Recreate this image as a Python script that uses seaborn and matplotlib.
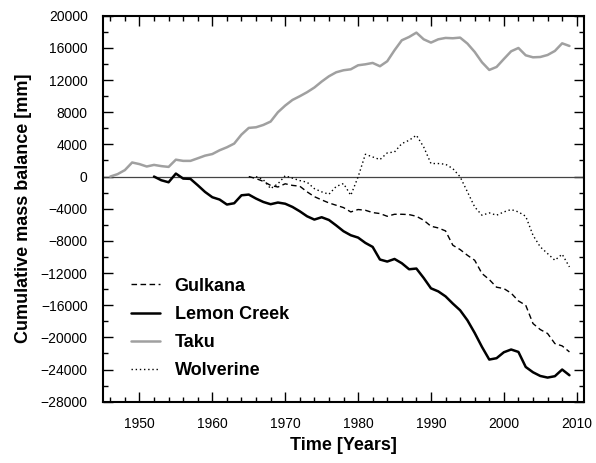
import numpy as np
import pandas as pd
import seaborn as sns
import matplotlib
matplotlib.use("Agg")
import matplotlib.pyplot as plt
from matplotlib.ticker import MultipleLocator, FixedLocator

# ---------------- data ----------------
taku_years = list(range(1946, 2010))
taku_values = [0, 300, 800, 1750, 1550, 1250, 1450, 1300, 1200, 2100,
               1950, 1950, 2270, 2600, 2800, 3270, 3640, 4100, 5220, 6050,
               6130, 6420, 6840, 8000, 8830, 9530, 9990, 10490, 11070, 11810,
               12470, 12970, 13220, 13340, 13840, 13960, 14130, 13720, 14340, 15710,
               16950, 17360, 17900, 17070, 16660, 17070, 17240, 17200, 17280, 16540,
               15500, 14210, 13260, 13630, 14620, 15580, 15990, 15080, 14830, 14870,
               15120, 15620, 16570, 16240]

lemon_years = list(range(1952, 2010))
lemon_values = [0, -460, -710, 370, -250, -290, -1080, -1910, -2570, -2860,
                -3480, -3320, -2330, -2240, -2740, -3160, -3440, -3230, -3380, -3780,
                -4320, -4940, -5350, -5060, -5400, -6080, -6800, -7300, -7590, -8250,
                -8750, -10320, -10570, -10250, -10780, -11530, -11440, -12610, -13900, -14280,
                -14900, -15800, -16630, -17870, -19450, -21190, -22760, -22590, -21850, -21510,
                -21810, -23680, -24340, -24800, -25000, -24830, -24000, -24710]

gulkana_years = list(range(1965, 2010))
gulkana_values = [0, -250, -600, -1100, -1300, -900, -1100, -1200, -1900, -2500,
                  -2900, -3280, -3570, -3860, -4400, -4100, -4190, -4480, -4600, -4940,
                  -4690, -4690, -4730, -4940, -5430, -6180, -6390, -6760, -8540, -9080,
                  -9790, -10410, -12060, -12810, -13760, -13930, -14500, -15470, -16000, -18280,
                  -19030, -19520, -20770, -21060, -21810]

wolverine_years = list(range(1966, 2010))
wolverine_values = [0, -400, -1500, -900, 100, -200, -500, -700, -1500, -1900,
                    -2200, -1230, -870, -2330, -50, 2770, 2440, 2110, 2940, 3060,
                    4100, 4510, 5140, 3680, 1620, 1620, 1530, 990, -30, -1900,
                    -3780, -4810, -4520, -4810, -4400, -4100, -4400, -4940, -7300, -8750,
                    -9580, -10410, -9660, -11240]

x_ticks = [1950, 1960, 1970, 1980, 1990, 2000, 2010]
y_ticks = list(range(-28000, 20001, 4000))

series = [
    ("Gulkana", gulkana_years, gulkana_values),
    ("Lemon Creek", lemon_years, lemon_values),
    ("Taku", taku_years, taku_values),
    ("Wolverine", wolverine_years, wolverine_values),
]

# ---------------- plot ----------------
sns.set_theme(style="ticks")
plt.rcParams['font.family'] = ['Liberation Sans', 'DejaVu Sans']
plt.rcParams['text.color'] = 'black'
plt.rcParams['axes.labelcolor'] = 'black'
plt.rcParams['xtick.color'] = 'black'
plt.rcParams['ytick.color'] = 'black'

fig = plt.figure(figsize=(5.96, 4.63), dpi=100)
ax = fig.add_axes([0.1728, 0.1324, 0.8071, 0.8336])

styles = {
    "Gulkana": dict(color="black", lw=1.0, dashes=(4, 2.5)),
    "Lemon Creek": dict(color="black", lw=1.8),
    "Taku": dict(color="#a0a0a0", lw=1.8),
    "Wolverine": dict(color="black", lw=1.0, dashes=(1, 2)),
}

ax.axhline(0, color="#444444", lw=0.9, zorder=1)

for name, yrs, vals in series:
    df = pd.DataFrame({"Year": yrs, "Balance": vals})
    st = styles[name]
    line_kw = dict(color=st["color"], linewidth=st["lw"], label=name)
    sns.lineplot(data=df, x="Year", y="Balance", ax=ax, **line_kw)
    ln = ax.get_lines()[-1]
    if "dashes" in st:
        ln.set_dashes(st["dashes"])

ax.set_xlim(1945, 2011)
ax.set_ylim(-28000, 20000)
ax.xaxis.set_major_locator(FixedLocator(x_ticks))
ax.xaxis.set_minor_locator(MultipleLocator(2))
ax.yaxis.set_major_locator(FixedLocator(y_ticks))
ax.yaxis.set_minor_locator(MultipleLocator(2000))

ax.tick_params(which="both", direction="in", top=True, right=True,
               colors="black", labelcolor="black", labelsize=10)
ax.tick_params(which="major", length=7, width=1.0, pad=11)
ax.tick_params(which="minor", length=3.5, width=1.0)

for sp in ax.spines.values():
    sp.set_linewidth(1.5)
    sp.set_color("black")

ax.set_xlabel("Time [Years]", fontsize=13, fontweight="bold", labelpad=4, color="black")
ax.set_ylabel("Cumulative mass balance [mm]", fontsize=13, fontweight="bold",
              labelpad=6, color="black")

leg = ax.legend(loc="upper left", bbox_to_anchor=(0.044, 0.34), frameon=False,
                prop={"weight": "bold", "size": 13}, handlelength=1.6,
                handletextpad=0.8, labelspacing=0.62, borderaxespad=0)
for t in leg.get_texts():
    t.set_color("black")

fig.savefig("out.png", dpi=100)
